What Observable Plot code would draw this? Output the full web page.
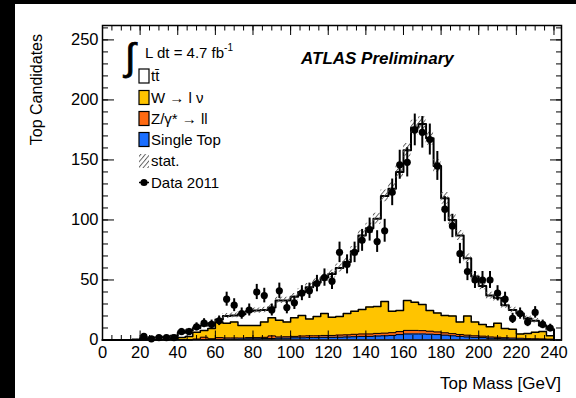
<!DOCTYPE html>
<html>
<head>
<meta charset="utf-8">
<script src="https://cdn.jsdelivr.net/npm/d3@7"></script>
<script src="https://cdn.jsdelivr.net/npm/@observablehq/plot@0.6"></script>
<style>
  html, body { margin: 0; padding: 0; background: #000; width: 576px; height: 398px; overflow: hidden; }
  #chart { position: absolute; left: 15px; top: 4px; width: 561px; height: 394px; background: #fff; }
</style>
</head>
<body>
<div id="chart"></div>
<script>
// Reconstructed top-quark mass spectrum, 4 GeV bins from 0 to 240 GeV
const binWidth = 4;
const binLow = d3.range(0, 240, binWidth);

// Observed candidates per bin (Data 2011)
const data2011 = [0, 0, 0, 0, 0, 3, 1, 2, 2, 2,
  7, 7, 11, 14, 13, 16, 34, 29, 22, 25,
  40, 37, 25, 41, 27, 31, 39, 41, 47, 52,
  49, 73, 63, 73, 83, 92, 82, 91, 123, 146,
  148, 175, 173, 167, 145, 109, 95, 72, 57, 50,
  50, 50, 39, 34, 18, 22, 15, 23, 13, 10];

// Expected contributions per bin
const ttbar = [0, 0, 0, 0, 0.5, 1.2, 1.7, 1.5, 2, 2.5,
  4, 5, 3.5, 4, 4.5, 2, 6, 5.5, 9.5, 12,
  12.5, 10, 8.5, 16.5, 18, 17.5, 19.5, 26.5, 28.5, 30,
  36, 40.5, 43, 50, 61.5, 65.5, 73, 88, 102, 115.5,
  125, 145.5, 150.5, 143.5, 122.5, 97.5, 80, 72, 48, 38,
  32, 26, 21, 19.5, 16, 17, 12.5, 9.5, 5, 5.5];

const wjets = [0, 0, 0, 0, 0, 0.3, 0.3, 0.5, 0.3, 0.8,
  1.7, 2.7, 5.7, 5.7, 8.5, 13, 12.3, 13.3, 10.4, 10,
  10, 12.8, 15.1, 14, 12.3, 15.5, 17.2, 14, 16, 18.2,
  15.2, 15.4, 17.7, 19.3, 20.5, 22.5, 22.5, 26.3, 17.9, 17.5,
  25, 23.5, 21.7, 17.2, 15.8, 14.5, 14.7, 10.4, 16, 11.5,
  9.8, 8.5, 11.7, 7.6, 7.4, 3.6, 4.4, 5.5, 6.1, 2.8];

const zjets = [0, 0, 0, 0, 0, 0, 0, 0, 0.2, 0.2,
  0.3, 0.3, 0.5, 2, 0.5, 1.5, 1, 1, 0.8, 1,
  1, 1, 2.2, 1, 1.2, 1.2, 1.5, 1.5, 1.5, 1.6,
  1.6, 1.8, 1.8, 2, 2, 2, 2.2, 2.2, 2.3, 2.5,
  3, 3, 2.8, 2.5, 2.2, 2, 1.8, 1.6, 1.5, 1.3,
  1.2, 1, 1, 0.9, 0.8, 0.7, 0.6, 0.5, 0.5, 0.4];

const singleTop = [0, 0, 0, 0, 0, 0, 0, 0, 0, 0,
  0, 0, 0.3, 0.3, 0.5, 0.5, 0.7, 0.7, 0.8, 1,
  1, 1.2, 1.2, 1.5, 1.5, 1.8, 1.8, 2, 2, 2.2,
  2.2, 2.3, 2.5, 2.7, 3, 3, 3.3, 3.5, 3.8, 4.5,
  5, 5, 5, 4.8, 4.5, 4, 3.5, 3, 2.5, 2.2,
  2, 1.5, 1.3, 1, 0.8, 0.7, 0.5, 0.5, 0.4, 0.3];

// Statistical uncertainty of the total expectation
const mcStat = [0, 0, 0, 0, 0.3, 0.6, 0.7, 0.7, 0.8, 0.9,
  1.2, 1.4, 1.5, 1.6, 1.7, 1.9, 2, 2, 2.1, 2.2,
  2.2, 2.3, 2.4, 2.6, 2.6, 2.7, 2.8, 3, 3.1, 3.2,
  3.3, 3.4, 3.5, 3.8, 4.1, 4.3, 4.5, 4.9, 5, 5.3,
  5.6, 6, 6, 5.8, 5.4, 4.9, 4.5, 4.2, 3.7, 3.3,
  3.1, 2.8, 2.7, 2.5, 2.3, 2.2, 2, 1.9, 1.6, 1.4];

const xTicks = [0, 20, 40, 60, 80, 100, 120, 140, 160, 180, 200, 220, 240];
const yTicks = [0, 50, 100, 150, 200, 250];

const colors = {wjets: "#ffc400", zjets: "#ff6a12", singleTop: "#1a6eff"};
const font = "'Liberation Sans', Arial, Helvetica, sans-serif";

// cumulative stack tops, bottom to top: single top, Z, W, ttbar
const stTop = singleTop.slice();
const zTop = stTop.map((v, i) => v + zjets[i]);
const wTop = zTop.map((v, i) => v + wjets[i]);
const totTop = wTop.map((v, i) => v + ttbar[i]);
const xEnd = binLow[binLow.length - 1] + binWidth;

// closed step outline of a histogram
function steps(tops) {
  const pts = [{x: binLow[0], y: 0}];
  binLow.forEach((x, i) => pts.push({x, y: tops[i]}));
  pts.push({x: xEnd, y: tops[tops.length - 1]}, {x: xEnd, y: 0});
  return pts;
}
const band = binLow.map((x, i) => ({x, lo: totTop[i] - mcStat[i], hi: totTop[i] + mcStat[i]}));
band.push({x: xEnd, lo: band[band.length - 1].lo, hi: band[band.length - 1].hi});

const points = binLow
  .map((x, i) => ({x: x + binWidth / 2, n: data2011[i]}))
  .filter(d => d.n > 0);

function stack(tops, fill, strokeWidth) {
  const pts = steps(tops);
  return [
    Plot.areaY(pts, {x: "x", y: "y", curve: "step-after", fill}),
    Plot.lineY(pts, {x: "x", y: "y", curve: "step-after", stroke: "black", strokeWidth})
  ];
}

const chart = Plot.plot({
  width: 561,
  height: 394,
  marginLeft: 87,
  marginRight: 15,
  marginTop: 21,
  marginBottom: 58.5,
  style: {background: "white", fontFamily: font, fontSize: "16.5px", color: "black"},
  x: {domain: [0, 244]},
  y: {domain: [0, 262]},
  marks: [
    ...stack(totTop, "white", 2),
    ...stack(wTop, colors.wjets, 1.5),
    ...stack(zTop, colors.zjets, 1),
    ...stack(stTop, colors.singleTop, 1),
    Plot.areaY(band, {x: "x", y1: "lo", y2: "hi", curve: "step-after", fill: "url(#stat-hatch)"}),
    Plot.ruleX(points, {x: "x", y1: d => d.n - Math.sqrt(d.n), y2: d => d.n + Math.sqrt(d.n), stroke: "black", strokeWidth: 2}),
    Plot.dot(points, {x: "x", y: "n", r: 3.6, fill: "black", stroke: "none"}),
    // inward ticks on all four sides
    Plot.axisY(yTicks, {anchor: "left", tickSize: 12, dx: 12, tickFormat: () => "", label: null}),
    Plot.axisY(d3.range(0, 262, 10), {anchor: "left", tickSize: 6, dx: 6, tickFormat: () => "", label: null}),
    Plot.axisY(yTicks, {anchor: "right", tickSize: 12, dx: -12, tickFormat: () => "", label: null}),
    Plot.axisY(d3.range(0, 262, 10), {anchor: "right", tickSize: 6, dx: -6, tickFormat: () => "", label: null}),
    Plot.axisX(xTicks, {anchor: "bottom", tickSize: 9, dy: -9, tickFormat: () => "", label: null}),
    Plot.axisX(d3.range(0, 244, 5), {anchor: "bottom", tickSize: 4.5, dy: -4.5, tickFormat: () => "", label: null}),
    Plot.axisX(xTicks, {anchor: "top", tickSize: 9, dy: 9, tickFormat: () => "", label: null}),
    Plot.axisX(d3.range(0, 244, 5), {anchor: "top", tickSize: 4.5, dy: 4.5, tickFormat: () => "", label: null}),
    // tick labels
    Plot.axisY(yTicks, {anchor: "left", tickSize: 0, tickPadding: 4, label: null, fontSize: 16.5}),
    Plot.axisX(xTicks, {anchor: "bottom", tickSize: 0, tickPadding: 6, label: null, fontSize: 16.5}),
    Plot.frame({stroke: "black", strokeWidth: 1.5})
  ]
});

document.getElementById("chart").appendChild(chart);

const svg = d3.select(chart);

// hatch pattern for the statistical band
const defs = svg.insert("defs", ":first-child");
const pat = defs.append("pattern")
  .attr("id", "stat-hatch")
  .attr("patternUnits", "userSpaceOnUse")
  .attr("width", 3.5).attr("height", 3.5)
  .attr("patternTransform", "rotate(40)");
pat.append("line").attr("x1", 0.5).attr("y1", 0).attr("x2", 0.5).attr("y2", 3.5)
  .attr("stroke", "#555").attr("stroke-width", 0.9);

function label(x, y, text, opts = {}) {
  const t = svg.append("text")
    .attr("x", x).attr("y", y)
    .attr("font-family", font)
    .attr("font-size", opts.size || 15)
    .attr("fill", "black")
    .attr("text-anchor", opts.anchor || "start")
    .text(text);
  if (opts.weight) t.attr("font-weight", opts.weight);
  if (opts.style) t.attr("font-style", opts.style);
  if (opts.transform) t.attr("transform", opts.transform);
  return t;
}

// axis titles
label(0, 0, "Top Candidates", {size: 16, anchor: "end", transform: "translate(27,30) rotate(-90)"});
label(546, 385, "Top Mass [GeV]", {size: 17, anchor: "end"});

// experiment label
label(286, 60, "ATLAS Preliminary", {size: 17, weight: "bold", style: "italic"});

// legend
label(110, 66, "\u222B", {size: 38})
  .attr("stroke", "black").attr("stroke-width", 0.8);
const lumi = label(130, 54, "L dt = 4.7 fb", {size: 15});
lumi.append("tspan").attr("dy", -7).attr("font-size", 10).text("-1");

const rows = [
  {y: 72, text: "t\u0074\u0304", fill: "white"},
  {y: 93.5, text: "W \u2192 l \u03BD", fill: colors.wjets},
  {y: 114.5, text: "Z/\u03B3* \u2192 ll", fill: colors.zjets},
  {y: 135.5, text: "Single Top", fill: colors.singleTop},
  {y: 157, text: "stat.", fill: "url(#stat-hatch)", hatch: true},
  {y: 178.5, text: "Data 2011", marker: true}
];
for (const r of rows) {
  if (r.marker) {
    svg.append("line").attr("x1", 124).attr("x2", 134).attr("y1", r.y).attr("y2", r.y)
      .attr("stroke", "black").attr("stroke-width", 1.5);
    svg.append("circle").attr("cx", 129).attr("cy", r.y).attr("r", 3.6).attr("fill", "black");
  } else {
    svg.append("rect").attr("x", 124).attr("y", r.y - 7).attr("width", 10).attr("height", 14)
      .attr("fill", r.fill)
      .attr("stroke", r.hatch ? "none" : "black").attr("stroke-width", 1.2);
  }
  label(136, r.y + 5.3, r.text, {size: 15});
}
</script>
</body>
</html>
